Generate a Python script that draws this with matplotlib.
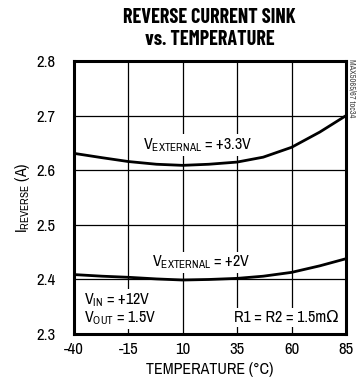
import matplotlib
matplotlib.use("Agg")
import matplotlib.pyplot as plt

plt.rcParams['font.family'] = ['Archivo Narrow', 'DejaVu Sans']
plt.rcParams['mathtext.fontset'] = 'custom'
plt.rcParams['mathtext.rm'] = 'Archivo Narrow'
plt.rcParams['mathtext.it'] = 'Archivo Narrow'

# Temperature sweep (deg C) and reverse current (A)
temp = [-40, -27, -15, -2, 10, 22, 35, 47, 60, 73, 85]
i_ext_33 = [2.631, 2.623, 2.616, 2.611, 2.609, 2.611, 2.615, 2.624, 2.642, 2.670, 2.700]
i_ext_2 = [2.409, 2.406, 2.404, 2.401, 2.399, 2.400, 2.402, 2.406, 2.413, 2.425, 2.438]

xticks = [-40, -15, 10, 35, 60, 85]
yticks = [2.3, 2.4, 2.5, 2.6, 2.7, 2.8]

fig = plt.figure(figsize=(3.6, 3.84), dpi=100)
ax = fig.add_axes([0.205, 0.130, 0.756, 0.711])

ax.set_xlim(-40, 85)
ax.set_ylim(2.3, 2.8)
ax.set_xticks(xticks)
ax.set_yticks(yticks)
ax.set_xticklabels([str(t) for t in xticks])
ax.set_yticklabels([f"{t:.1f}" for t in yticks])
ax.tick_params(axis='y', length=0, labelsize=12, pad=13)
ax.tick_params(axis='x', length=0, labelsize=12, pad=6)
ax.grid(True, color='black', linewidth=0.9)
ax.set_axisbelow(True)
for s in ax.spines.values():
    s.set_linewidth(2.2)

ax.plot(temp, i_ext_33, color='black', linewidth=2.0, zorder=3)
ax.plot(temp, i_ext_2, color='black', linewidth=2.0, zorder=3)

box = dict(facecolor='white', edgecolor='none', pad=1.5)
fs = 11.5
ax.text(17, 2.646, r'$\mathrm{V_{EXTERNAL}}$ = +3.3V', ha='center', va='center',
        fontsize=fs, bbox=box, zorder=2)
ax.text(18.5, 2.431, r'$\mathrm{V_{EXTERNAL}}$ = +2V', ha='center', va='center',
        fontsize=fs, bbox=box, zorder=2)
ax.text(-35.5, 2.362, r'$\mathrm{V_{IN}}$ = +12V', ha='left', va='center',
        fontsize=fs, bbox=box, zorder=2)
ax.text(-35.5, 2.330, r'$\mathrm{V_{OUT}}$ = 1.5V', ha='left', va='center',
        fontsize=fs, bbox=box, zorder=2)
ax.text(81.5, 2.330, 'R1 = R2 = 1.5m\u03a9', ha='right', va='center',
        fontsize=fs, bbox=box, zorder=2)

ax.set_xlabel('TEMPERATURE (\u00b0C)', fontsize=fs, labelpad=3)
ax.set_ylabel(r'$\mathrm{I_{REVERSE}}$ (A)', fontsize=fs, labelpad=3)

fig.text(0.582, 0.925, 'REVERSE CURRENT SINK\nvs. TEMPERATURE', ha='center', va='center',
         fontsize=14.5, fontweight='bold', linespacing=1.2,
         family=['Barlow Condensed', 'Archivo Narrow', 'DejaVu Sans'])
fig.text(0.978, 0.77, 'MAX5065/67 toc34', rotation=270, ha='center', va='center',
         fontsize=6, color='#444444')

fig.savefig('out.png', dpi=100)
